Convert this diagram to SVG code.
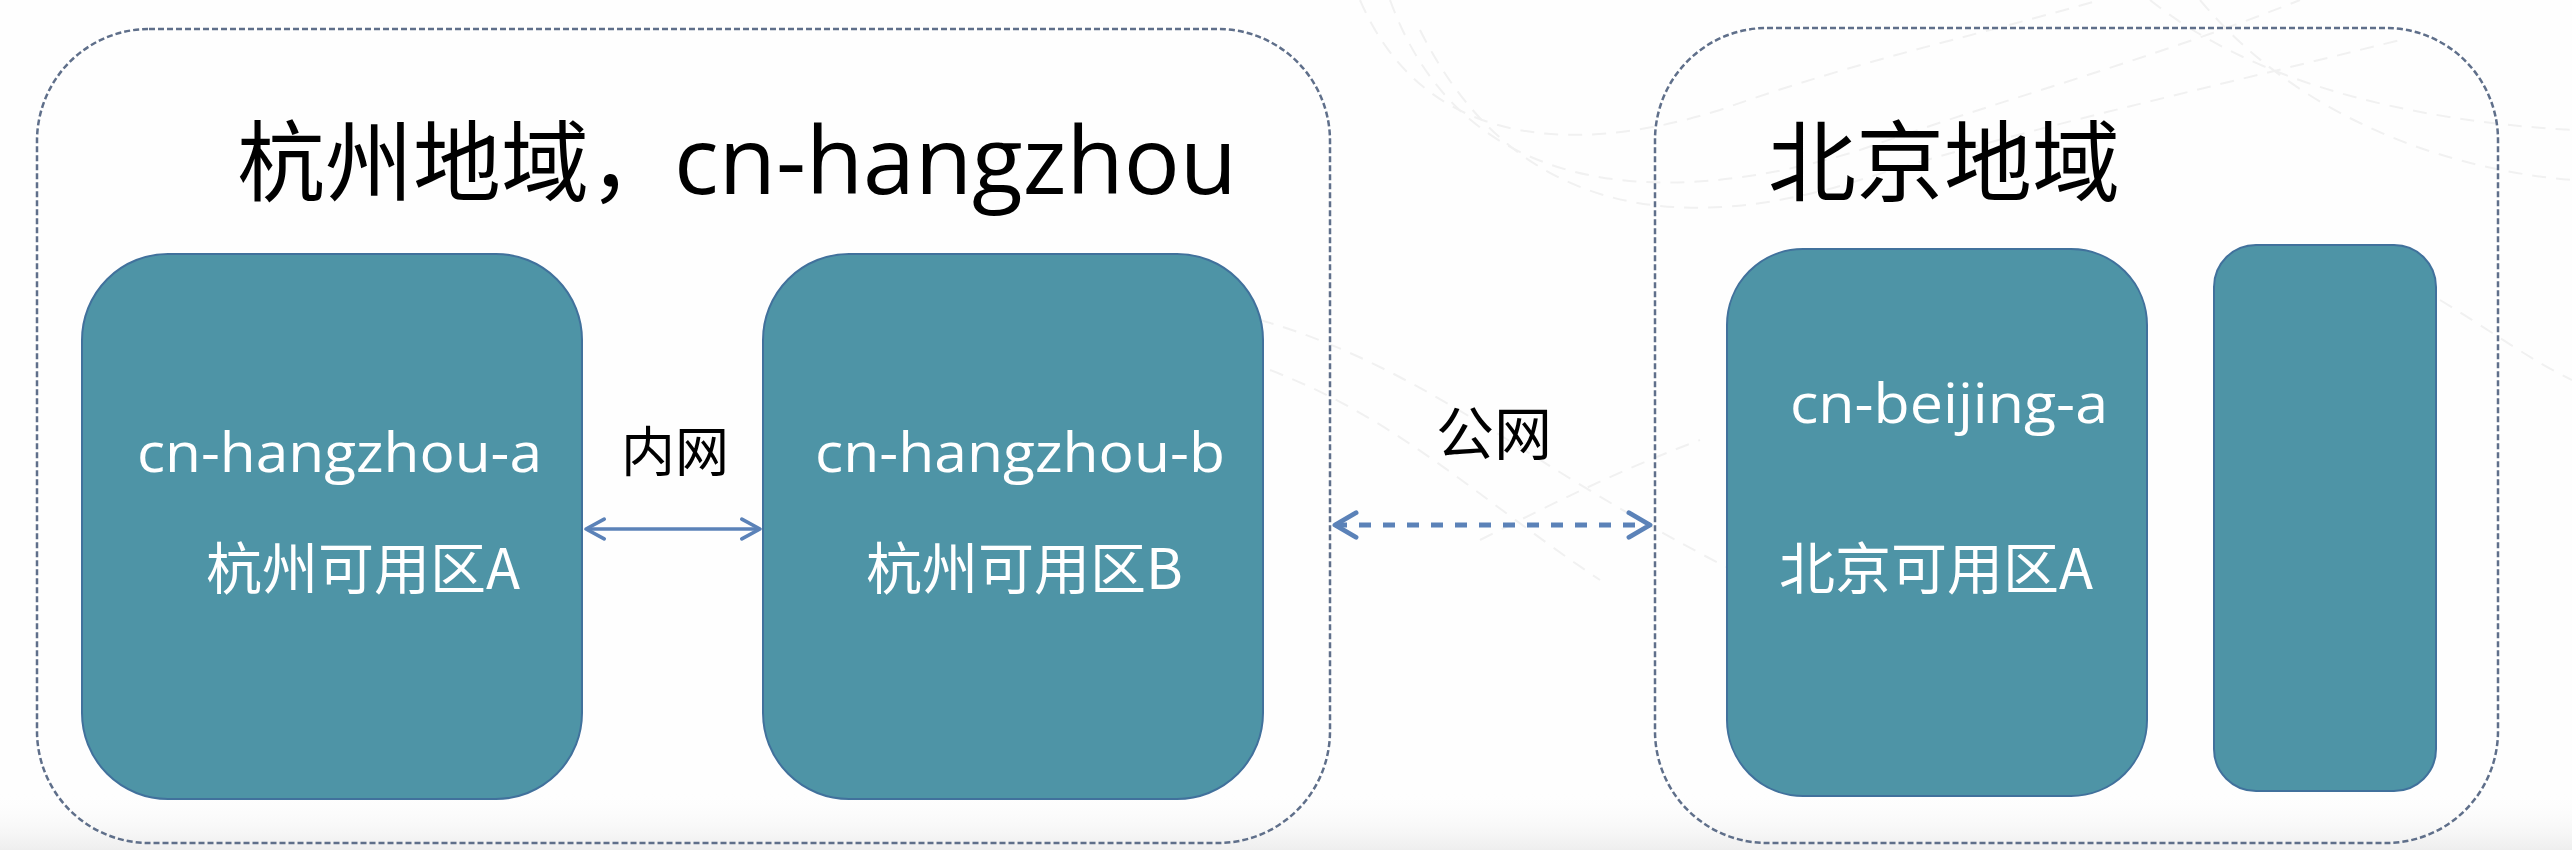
<svg xmlns="http://www.w3.org/2000/svg" width="2572" height="850" viewBox="0 0 2572 850">
  <defs>
    <style>
      .region { fill: none; stroke: #5f6f8a; stroke-width: 2.5; stroke-dasharray: 6 3; }
      .zone { fill: #4e94a6; stroke: #41719c; stroke-width: 2; }
      .title { font-family: "Noto Sans CJK SC", sans-serif; fill: #000; }
      .latin { font-family: "Open Sans", "Noto Sans CJK SC", sans-serif; }
      .cjk { font-family: "Noto Sans CJK SC", sans-serif; }
      .white { fill: #ffffff; }
      .black { fill: #000000; }
      .bg { fill: none; stroke: #f1f1f1; stroke-width: 2; stroke-dasharray: 14 10; }
      .link { fill: none; stroke: #5b82b8; }
    </style>
    <marker id="chev" viewBox="0 0 20 20" refX="17" refY="10" markerWidth="8" markerHeight="8" orient="auto-start-reverse" markerUnits="strokeWidth">
      <path d="M4,3 L17,10 L4,17" fill="none" stroke="#5b82b8" stroke-width="2.6" stroke-linecap="round" stroke-linejoin="round"/>
    </marker>
    <marker id="chev2" viewBox="0 0 20 20" refX="17" refY="10" markerWidth="7" markerHeight="7" orient="auto-start-reverse" markerUnits="strokeWidth">
      <path d="M5,3 L17,10 L5,17" fill="none" stroke="#5b82b8" stroke-width="2.8" stroke-linecap="round" stroke-linejoin="round"/>
    </marker>
    <linearGradient id="bottomShade" x1="0" y1="0" x2="0" y2="1">
      <stop offset="0" stop-color="#ffffff" stop-opacity="0"/>
      <stop offset="1" stop-color="#eeeeee" stop-opacity="1"/>
    </linearGradient>
  </defs>

  <rect x="0" y="0" width="2572" height="850" fill="#fefefe"/>
  <rect x="0" y="790" width="2572" height="60" fill="url(#bottomShade)"/>

  <g id="background">
    <path class="bg" d="M1360,0 C1420,140 1560,160 1720,110 C1860,60 1960,40 2100,0"/>
    <path class="bg" d="M1390,0 C1470,220 1700,200 1860,150 C2000,100 2150,60 2300,0"/>
    <path class="bg" d="M1420,30 C1520,230 1700,230 1860,180 C2020,130 2200,90 2400,40"/>
    <path class="bg" d="M1260,320 C1400,360 1500,440 1640,520 C1780,600 1900,650 2000,700"/>
    <path class="bg" d="M1270,370 C1400,420 1480,500 1600,580"/>
    <path class="bg" d="M1480,540 C1560,500 1620,470 1700,440"/>
    <path class="bg" d="M2150,0 C2250,80 2400,120 2572,130"/>
    <path class="bg" d="M2200,0 C2300,120 2450,170 2572,180"/>
    <path class="bg" d="M2440,300 C2490,330 2530,360 2572,380"/>
  </g>

  <g id="region-hangzhou">
    <rect class="region" x="37" y="29" width="1293" height="814" rx="112" ry="112"/>
    <text class="title" y="194" font-size="88"><tspan x="237">杭州地域，</tspan><tspan class="latin" x="674" font-size="94" textLength="563" lengthAdjust="spacingAndGlyphs">cn-hangzhou</tspan></text>
  </g>

  <g id="region-beijing">
    <rect class="region" x="1655" y="28" width="843" height="815" rx="112" ry="112"/>
    <text class="title" x="1768" y="194" font-size="88">北京地域</text>
  </g>

  <g id="zone-hangzhou-a">
    <rect class="zone" x="82" y="254" width="500" height="545" rx="86" ry="86"/>
    <text class="latin white" x="137" y="472" font-size="55" textLength="405" lengthAdjust="spacingAndGlyphs">cn-hangzhou-a</text>
    <text class="cjk white" x="206" y="589" font-size="56">杭州可用区A</text>
  </g>

  <g id="zone-hangzhou-b">
    <rect class="zone" x="763" y="254" width="500" height="545" rx="86" ry="86"/>
    <text class="latin white" x="815" y="472" font-size="55" textLength="410" lengthAdjust="spacingAndGlyphs">cn-hangzhou-b</text>
    <text class="cjk white" x="866" y="589" font-size="56">杭州可用区B</text>
  </g>

  <g id="zone-beijing-a">
    <rect class="zone" x="1727" y="249" width="420" height="547" rx="76" ry="76"/>
    <text class="latin white" x="1790" y="423" font-size="55" textLength="318" lengthAdjust="spacingAndGlyphs">cn-beijing-a</text>
    <text class="cjk white" x="1779" y="589" font-size="56">北京可用区A</text>
  </g>

  <g id="zone-beijing-b">
    <rect class="zone" x="2214" y="245" width="222" height="546" rx="42" ry="42"/>
  </g>

  <g id="connectors">
    <line class="link" x1="586" y1="529" x2="760" y2="529" stroke-width="3.5" marker-start="url(#chev)" marker-end="url(#chev)"/>
    <text class="cjk black" x="621" y="472" font-size="54">内网</text>
    <line class="link" x1="1335" y1="525" x2="1650" y2="525" stroke-width="5" stroke-dasharray="12 12" marker-start="url(#chev2)" marker-end="url(#chev2)"/>
    <text class="cjk black" x="1436" y="455" font-size="58">公网</text>
  </g>
</svg>
